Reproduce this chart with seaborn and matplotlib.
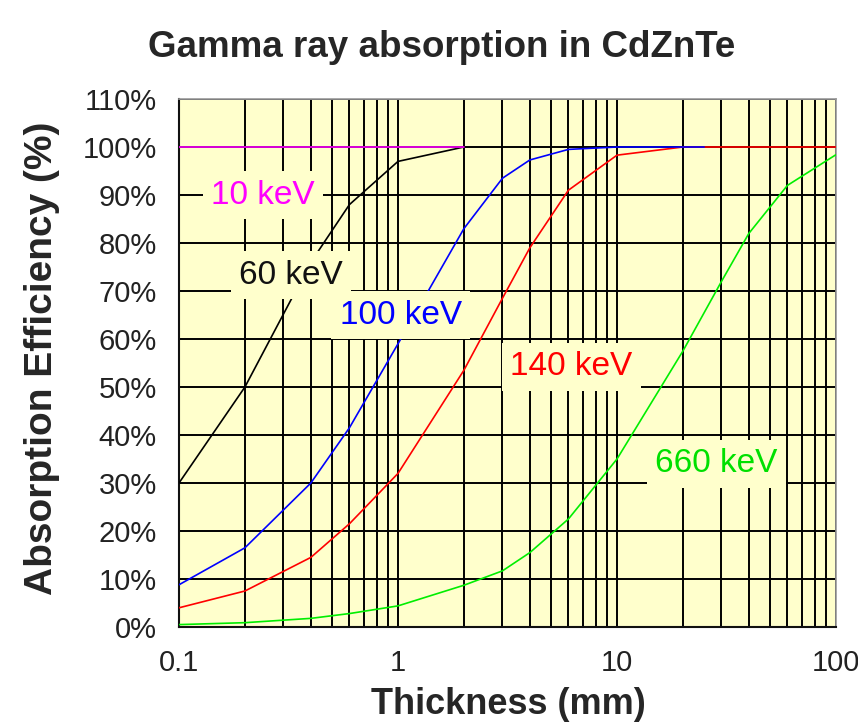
import pandas as pd
import seaborn as sns
import matplotlib.pyplot as plt
from matplotlib.ticker import LogLocator, FixedLocator, FixedFormatter, NullFormatter

# Absorption efficiency (%) vs. thickness (mm)
thick_10 = [0.1, 0.2, 0.4, 0.6, 1, 2]
eff_10 = [100, 100, 100, 100, 100, 100]

thick_60 = [0.1, 0.2, 0.4, 0.6, 1, 2]
eff_60 = [30, 50, 76, 88, 97, 100]

thick_100 = [0.1, 0.2, 0.4, 0.6, 1, 2, 3, 4, 6, 10, 25]
eff_100 = [8.8, 16.5, 30, 41.5, 59, 83, 93.5, 97.3, 99.5, 100, 100]

thick_140 = [0.1, 0.2, 0.4, 0.6, 1, 2, 3, 4, 6, 10, 20, 40, 60, 100]
eff_140 = [4, 7.5, 14.5, 21.5, 32, 53.5, 68.5, 79, 91, 98.3, 100, 100, 100, 100]

thick_660 = [0.1, 0.2, 0.4, 0.6, 1, 2, 3, 4, 6, 10, 20, 30, 40, 60, 100]
eff_660 = [0.5, 0.9, 1.8, 2.8, 4.4, 8.7, 11.7, 15.5, 22.5, 35, 57.5, 72, 82, 92, 98.4]

series_names = ["140 keV", "660 keV", "100 keV", "60 keV", "10 keV"]
line_colors = ["#ff0000", "#00ee00", "#0000ff", "#000000", "#ff00ff"]
text_colors = ["#ff0000", "#00e000", "#0000ff", "#111111", "#ff00ff"]
label_x = [6.2, 28.5, 1.03, 0.324, 0.242]
label_y = [54.2, 34, 65, 73.3, 90]

y_ticks = [0, 10, 20, 30, 40, 50, 60, 70, 80, 90, 100, 110]
y_tick_labels = [f"{v}%" for v in y_ticks]
x_ticks = [0.1, 1, 10, 100]
x_tick_labels = ["0.1", "1", "10", "100"]

frames = []
for name, xs, ys in [
    ("140 keV", thick_140, eff_140),
    ("660 keV", thick_660, eff_660),
    ("100 keV", thick_100, eff_100),
    ("60 keV", thick_60, eff_60),
    ("10 keV", thick_10, eff_10),
]:
    frames.append(pd.DataFrame({"thickness": xs, "efficiency": ys, "energy": name}))
df = pd.concat(frames, ignore_index=True)

sns.set_style("white")
plt.rcParams["font.family"] = ["Liberation Sans", "DejaVu Sans"]

fig = plt.figure(figsize=(8.58, 7.24), dpi=100)
ax = fig.add_axes([179 / 858, 1 - 627 / 724, 657 / 858, 528 / 724])
ax.set_facecolor("#ffffcc")

for name, color in zip(series_names, line_colors):
    sns.lineplot(
        data=df[df["energy"] == name],
        x="thickness",
        y="efficiency",
        color=color,
        linewidth=1.2,
        estimator=None,
        sort=False,
        ax=ax,
        zorder=3,
    )

ax.set_xscale("log")
ax.set_xlim(0.1, 100)
ax.set_ylim(0, 110)

ax.xaxis.set_major_locator(FixedLocator(x_ticks))
ax.xaxis.set_major_formatter(FixedFormatter(x_tick_labels))
ax.xaxis.set_minor_locator(LogLocator(base=10, subs=range(2, 10), numticks=20))
ax.xaxis.set_minor_formatter(NullFormatter())
ax.yaxis.set_major_locator(FixedLocator(y_ticks))
ax.yaxis.set_major_formatter(FixedFormatter(y_tick_labels))

ax.grid(which="both", axis="x", color="black", linewidth=1.4, zorder=1)
ax.grid(which="major", axis="y", color="black", linewidth=1.4, zorder=1)
ax.set_axisbelow(True)

ax.tick_params(which="both", length=0)
ax.tick_params(axis="x", labelsize=21, pad=16, colors="#222222")
ax.tick_params(axis="y", labelsize=21, pad=16, colors="#222222")

ax.set_xlabel("")
ax.set_ylabel("")

for side in ["left", "bottom"]:
    ax.spines[side].set_color("#111111")
    ax.spines[side].set_linewidth(1.5)
for side in ["top", "right"]:
    ax.spines[side].set_color("#999999")
    ax.spines[side].set_linewidth(1.2)

# curve labels on boxes that hide the grid behind them
for name, color, lx, ly in zip(series_names, text_colors, label_x, label_y):
    ax.text(
        lx, ly, name, color=color, fontsize=24, ha="center", va="center",
        zorder=5,
        bbox=dict(boxstyle="square,pad=0.25", facecolor="#ffffcc", edgecolor="none"),
    )

fig.text(442 / 858, 1 - 57 / 724, "Gamma ray absorption in CdZnTe",
         fontsize=26.5, fontweight="bold", ha="center", va="baseline")
fig.text(508 / 858, 1 - 704 / 724, "Thickness (mm)",
         fontsize=26, fontweight="bold", ha="center", va="center")
fig.text(42 / 858, 1 - 358 / 724, "Absorption Efficiency (%)",
         fontsize=28, fontweight="bold", rotation=90, ha="center", va="center")

if ax.get_legend():
    ax.get_legend().remove()

fig.savefig("out.png", dpi=100, facecolor="white")
